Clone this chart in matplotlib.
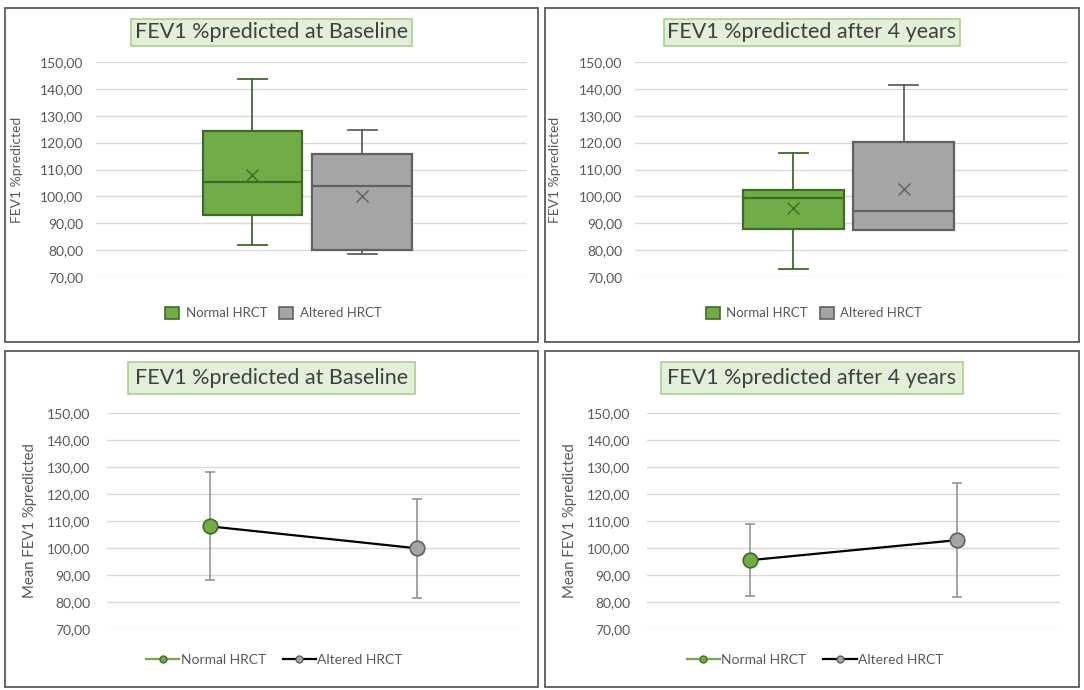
import matplotlib
matplotlib.use("Agg")
import matplotlib.pyplot as plt
from matplotlib.patches import Rectangle, Patch
from matplotlib.lines import Line2D
from matplotlib.ticker import FuncFormatter, MultipleLocator

plt.rcParams['font.family'] = ['Lato', 'DejaVu Sans']

# ---------------- data ----------------
series = ["Normal HRCT", "Altered HRCT"]
titles = ["FEV1 %predicted at Baseline", "FEV1 %predicted after 4 years"]

# box plots (top row)
base_whislo = [82.0, 78.4]
base_q1 = [93.2, 79.9]
base_med = [105.2, 103.9]
base_q3 = [124.3, 115.6]
base_whishi = [143.7, 124.8]
base_boxmean = [107.8, 100.0]

y4_whislo = [73.0, 87.4]
y4_q1 = [88.0, 87.4]
y4_med = [99.5, 94.7]
y4_q3 = [102.5, 120.2]
y4_whishi = [116.3, 141.3]
y4_boxmean = [95.8, 102.9]

# mean +/- SD (bottom row)
base_mean = [108.0, 99.9]
base_sd = [20.0, 18.3]
y4_mean = [95.5, 102.9]
y4_sd = [13.4, 21.2]

# ---------------- style ----------------
GREEN = '#70AD47'
GREEN_EDGE = '#3F6B27'
GREY = '#A5A5A5'
GREY_EDGE = '#616161'
TXT = '#595959'
GRID = '#D9D9D9'

W, H = 1084, 690
fig = plt.figure(figsize=(W / 100, H / 100), dpi=100)


def fx(px):
    return px / W


def fy(py):
    return 1 - py / H


def frame(x0, y0, x1, y1):
    fig.patches.append(Rectangle((fx(x0), fy(y1)), fx(x1) - fx(x0), fy(y0) - fy(y1),
                                 transform=fig.transFigure, fill=False,
                                 edgecolor='#5A5A5A', linewidth=1.3, zorder=0))


def title(text, xc, yc, pad):
    fig.text(fx(xc), fy(yc), text, ha='center', va='center', fontsize=15.5,
             color='#404040',
             bbox=dict(boxstyle=f'square,pad={pad}', facecolor='#E2F0D9',
                       edgecolor='#A9D18E', linewidth=1.2))


fmt = FuncFormatter(lambda v, p: f"{v:.2f}".replace('.', ','))


def style_axes(ax, ylabel, labsize, xlabcoord, pad):
    ax.set_ylim(70, 150)
    ax.yaxis.set_major_locator(MultipleLocator(10))
    ax.yaxis.set_major_formatter(fmt)
    ax.grid(axis='y', color=GRID, linewidth=1)
    ax.set_axisbelow(True)
    for s in ax.spines.values():
        s.set_visible(False)
    ax.tick_params(axis='y', length=0, labelsize=10, labelcolor=TXT, pad=pad)
    ax.tick_params(axis='x', length=0, labelbottom=False)
    ax.set_ylabel(ylabel, fontsize=labsize, color=TXT)
    ax.yaxis.set_label_coords(xlabcoord, 0.5)


frames = [(5, 8, 538, 342), (545, 8, 1079, 342), (5, 351, 538, 687), (545, 351, 1079, 687)]
for f in frames:
    frame(*f)

# ---------------- top row: box plots ----------------
box_sets = [
    (base_whislo, base_q1, base_med, base_q3, base_whishi, base_boxmean),
    (y4_whislo, y4_q1, y4_med, y4_q3, y4_whishi, y4_boxmean),
]
top_axes_px = [(96, 527), (635, 1068)]
top_xlims = [(-1.925, 2.0), (-1.935, 1.99)]
fills = [GREEN, GREY]
edges = [GREEN_EDGE, GREY_EDGE]
positions = [-0.5, 0.5]

for i, (data, (l, r)) in enumerate(zip(box_sets, top_axes_px)):
    ax = fig.add_axes([fx(l), fy(277), fx(r) - fx(l), fy(62) - fy(277)])
    wl, q1, md, q3, wh, mn = data
    for j in range(2):
        st = [dict(whislo=wl[j], q1=q1[j], med=md[j], q3=q3[j], whishi=wh[j],
                   mean=mn[j], fliers=[])]
        ax.bxp(st, positions=[positions[j]], widths=0.91, capwidths=0.26,
               showmeans=True, patch_artist=True,
               boxprops=dict(facecolor=fills[j], edgecolor=edges[j], linewidth=1.6),
               medianprops=dict(color=edges[j], linewidth=1.6),
               whiskerprops=dict(color=edges[j], linewidth=1.3),
               capprops=dict(color=edges[j], linewidth=1.3),
               meanprops=dict(marker='x', markeredgecolor=edges[j], markersize=8,
                              markeredgewidth=1.0))
    ax.set_xlim(*top_xlims[i])
    style_axes(ax, "FEV1 %predicted", 10, -0.17, 9)
    xc = (frames[i][0] + frames[i][2]) / 2
    title(titles[i], xc, 32.5, 0.18)
    handles = [Patch(facecolor=GREEN, edgecolor=GREEN_EDGE, linewidth=1.2),
               Patch(facecolor=GREY, edgecolor=GREY_EDGE, linewidth=1.2)]
    ax.legend(handles, series, loc='center', bbox_to_anchor=(fx(xc + 2), fy(313)),
              bbox_transform=fig.transFigure, ncol=2, frameon=False, fontsize=9.5,
              labelcolor=TXT, handlelength=1.05, handleheight=1.05,
              handletextpad=0.5, columnspacing=0.9)

# ---------------- bottom row: mean +/- SD ----------------
line_sets = [(base_mean, base_sd), (y4_mean, y4_sd)]
bot_axes_px = [(107, 520), (647, 1060)]
cats = [0, 1]
for i, ((mean, sd), (l, r)) in enumerate(zip(line_sets, bot_axes_px)):
    ax = fig.add_axes([fx(l), fy(629), fx(r) - fx(l), fy(413) - fy(629)])
    ax.plot(cats, mean, color='black', linewidth=1.6, zorder=2)
    for j in range(2):
        ax.errorbar([cats[j]], [mean[j]], yerr=[sd[j]], fmt='none', ecolor='#8C8C8C',
                    elinewidth=1.1, capsize=3.3, capthick=1.1, zorder=1)
        ax.plot([cats[j]], [mean[j]], marker='o', markersize=10.5, color=fills[j],
                markeredgecolor=edges[j], markeredgewidth=1.2, linestyle='none', zorder=3)
    ax.set_xlim(-0.5, 1.5)
    style_axes(ax, "Mean FEV1 %predicted", 10.7, -0.17, 12)
    xc = (frames[i + 2][0] + frames[i + 2][2]) / 2
    title(titles[i], xc, 378, 0.3)
    handles = [Line2D([], [], color=GREEN, linewidth=1.6, marker='o', markersize=5,
                      markerfacecolor=GREEN, markeredgecolor=GREEN_EDGE),
               Line2D([], [], color='black', linewidth=1.6, marker='o', markersize=5,
                      markerfacecolor=GREY, markeredgecolor=GREY_EDGE)]
    ax.legend(handles, series, loc='center', bbox_to_anchor=(fx(xc + 3), fy(660)),
              bbox_transform=fig.transFigure, ncol=2, frameon=False, fontsize=10,
              labelcolor=TXT, handlelength=2.4, handletextpad=0.1, columnspacing=1.2)

fig.savefig("out.png", dpi=100, facecolor='white')
